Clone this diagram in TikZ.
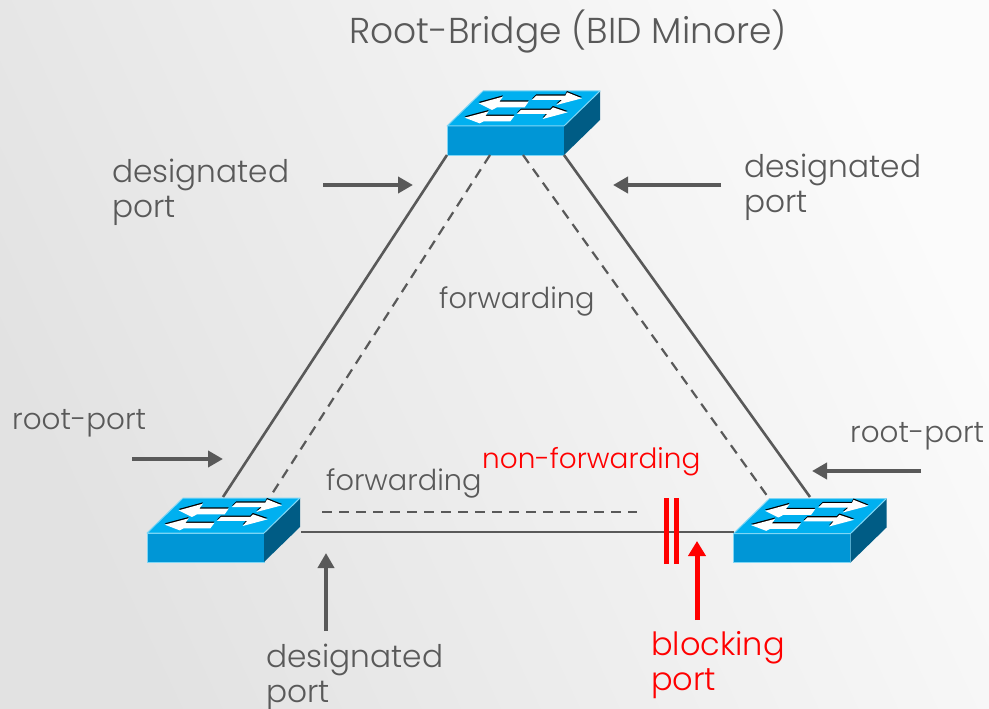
\documentclass[tikz,border=0pt]{standalone}
\usepackage{fontspec}
\setmainfont{Poppins Light}
\usepackage{xcolor}
\usepackage{tikz}
\usetikzlibrary{arrows.meta,positioning,calc}
\definecolor{bgdark}{HTML}{E2E2E2}
\definecolor{bglight}{HTML}{FBFBFB}
\definecolor{linegray}{HTML}{595959}
\definecolor{swtop}{HTML}{00B0F0}
\definecolor{swfront}{HTML}{0096D6}
\definecolor{swside}{HTML}{005C85}
\definecolor{swedge}{HTML}{7FD6F5}
\definecolor{alertred}{HTML}{FF0000}

\begin{document}
\begin{tikzpicture}[
    x=1pt, y=-1pt,
    frontbox/.style={draw=swedge, fill=swfront, line width=1pt, minimum width=117pt, minimum height=29pt, inner sep=0pt, outer sep=0pt},
    label/.style={text=linegray, font=\fontsize{31.2}{35}\selectfont, align=left, inner sep=0pt},
    rootlabel/.style={label, font=\fontsize{29.4}{35}\selectfont},
    smalllabel/.style={text=linegray, font=\fontsize{28.8}{30}\selectfont, inner sep=0pt},
    redlabel/.style={label, text=alertred, font=\fontsize{32}{35}\selectfont},
    cable/.style={draw=linegray, line width=2.6pt},
    cabledash/.style={draw=linegray, line width=2.2pt, dash pattern=on 10pt off 7pt},
    pointer/.style={draw=linegray, line width=4.5pt, -{Triangle[length=15pt,width=16pt]}},
    redpointer/.style={draw=alertred, line width=5pt, -{Triangle[length=15pt,width=17pt]}},
    redbar/.style={draw=alertred, line width=5pt},
    switchtop/.pic={
        \fill[swside] (117,0) -- (153,-35) -- (153,-6) -- (117,29) -- cycle;
        \draw[swedge, fill=swtop, line width=1pt, line join=round] (0,0) -- (36,-35) -- (153,-35) -- (117,0) -- cycle;
        \begin{scope}[x=0.3333pt, y=-0.3333pt, xshift=-16.67pt, yshift=46pt]
            \foreach \col/\dy in {black/-4, white/0} {
                \fill[\col, yshift=\dy*-0.3333pt] (145,70) -- (218,50) -- (207,65) -- (295,65) -- (283,82) -- (200,82) -- (185,90) -- cycle;
                \fill[\col, yshift=\dy*-0.3333pt] (455,55) -- (410,37) -- (405,47) -- (318,47) -- (305,60) -- (395,60) -- (378,75) -- cycle;
                \fill[\col, yshift=\dy*-0.3333pt] (103,113) -- (175,94) -- (165,108) -- (252,108) -- (240,124) -- (160,124) -- (148,130) -- cycle;
                \fill[\col, yshift=\dy*-0.3333pt] (412,97) -- (368,82) -- (360,90) -- (272,90) -- (260,102) -- (350,102) -- (337,117) -- cycle;
            }
        \end{scope}
    }
]
    \useasboundingbox (0,0) rectangle (989,709);
    \shade[left color=bgdark, right color=bglight, shading angle=115] (0,0) rectangle (989,709);

    % switches
    \node[frontbox] (rootsw) at (505.5,140.5) {};
    \node[frontbox] (leftsw) at (205.5,547.5) {};
    \node[frontbox] (rightsw) at (792,548) {};
    \pic at (rootsw.north west) {switchtop};
    \pic at (leftsw.north west) {switchtop};
    \pic at (rightsw.north west) {switchtop};

    % links
    \coordinate (leftup) at (223,497);
    \coordinate (leftupd) at (270,497);
    \coordinate (rightup) at (810,497);
    \coordinate (rightupd) at (768,497);
    \coordinate (leftside) at (301,532);
    \coordinate (leftdash) at (322,512);
    \coordinate (rightdash) at (637,512);
    \draw[cable] (rootsw.south west) -- (leftup);
    \draw[cable] (rootsw.south east) -- (rightup);
    \draw[cabledash] ($(rootsw.south west)+(43,0)$) -- (leftupd);
    \draw[cabledash] ($(rootsw.south east)+(-41,0)$) -- (rightupd);
    \draw[cable] (leftside) -- (rightsw.west |- leftside);
    \draw[cabledash] (leftdash) -- (rightdash);

    % blocked port
    \coordinate (bara) at (666,498);
    \coordinate (barb) at (666,564);
    \coordinate (barc) at (676,498);
    \coordinate (bard) at (676,564);
    \draw[redbar] (bara) -- (barb);
    \draw[redbar] (barc) -- (bard);

    % labels
    \node[label, font=\fontsize{36}{40}\selectfont] (title) at (568,32) {Root-Bridge (BID Minore)};
    \node[label, anchor=west] (dpleft) at (112,192) {designated\\port};
    \node[label, anchor=west] (dpright) at (744,187) {designated\\port};
    \node[label, anchor=west] (dpbottom) at (266,677) {designated\\port};
    \node[rootlabel, anchor=west] (rpleft) at (12,423) {root-port};
    \node[rootlabel, anchor=west] (rpright) at (850,436) {root-port};
    \node[redlabel, anchor=west] (blocking) at (651,665) {blocking\\port};
    \node[smalllabel, anchor=west] (fwdtop) at (439,301) {forwarding};
    \node[smalllabel, anchor=west] (fwdbottom) at (326,483) {forwarding};
    \node[smalllabel, anchor=west, text=alertred, font=\fontsize{27.9}{30}\selectfont] (nonfwd) at (482,462) {non-forwarding};

    % pointers
    \coordinate (pa) at (323,185);
    \coordinate (pb) at (413,185);
    \coordinate (pc) at (721,185);
    \coordinate (pd) at (613,185);
    \coordinate (pe) at (132,459);
    \coordinate (pf) at (223,459);
    \coordinate (pg) at (921,471);
    \coordinate (ph) at (812,471);
    \coordinate (pi) at (326,631);
    \coordinate (pj) at (326,553);
    \coordinate (pk) at (697,620);
    \coordinate (pl) at (697,541);
    \draw[pointer] (pa) -- (pb);
    \draw[pointer] (pc) -- (pd);
    \draw[pointer] (pe) -- (pf);
    \draw[pointer] (pg) -- (ph);
    \draw[pointer] (pi) -- (pj);
    \draw[redpointer] (pk) -- (pl);
\end{tikzpicture}
\end{document}
